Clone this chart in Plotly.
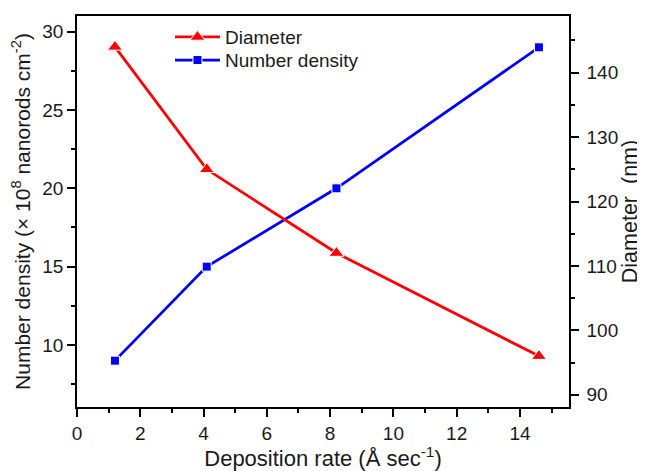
import plotly.graph_objects as go

deposition_rate = [1.2, 4.1, 8.2, 14.6]
diameter_nm = [144, 125, 112, 96]
number_density = [9, 15, 20, 29]

FONT = "Liberation Sans, Arial, sans-serif"
TXT = "#1a1a1a"

fig = go.Figure()
fig.add_trace(go.Scatter(
    x=deposition_rate, y=diameter_nm, name="Diameter", yaxis="y2",
    mode="lines+markers", legend="legend",
    line=dict(color="#ff0000", width=2.8),
    marker=dict(symbol="triangle-up", size=13, color="#ff0000",
                line=dict(color="white", width=1)),
))
fig.add_trace(go.Scatter(
    x=deposition_rate, y=number_density, name="Number density", yaxis="y",
    mode="lines+markers", legend="legend2",
    line=dict(color="#0000ff", width=2.8),
    marker=dict(symbol="square", size=9, color="#0000ff",
                line=dict(color="white", width=1)),
))

axis_common = dict(
    showline=True, linecolor="black", linewidth=1.5,
    ticks="outside", ticklen=8, tickwidth=1.5, tickcolor="black",
    showgrid=False, zeroline=False, automargin=False,
    tickfont=dict(family=FONT, size=19, color=TXT),
)
minor_common = dict(ticklen=4, tickwidth=1.5, tickcolor="black", ticks="outside")
legend_common = dict(xanchor="left", yanchor="middle", bgcolor="rgba(0,0,0,0)",
                     font=dict(family=FONT, size=19, color=TXT), itemwidth=45)

# page body has an 8px margin; figure is sized/margined to compensate
fig.update_layout(
    width=637, height=463,
    margin=dict(l=69, r=76, t=8, b=64),
    paper_bgcolor="white", plot_bgcolor="white",
    font=dict(family=FONT, color=TXT),
    showlegend=True,
    legend=dict(x=0.189, y=0.946, **legend_common),
    legend2=dict(x=0.189, y=0.887, **legend_common),
    xaxis=dict(
        range=[0, 15.55], dtick=2, tick0=0, mirror=True,
        minor=dict(dtick=1, tick0=0, **minor_common),
        title=dict(text="Deposition rate (Å sec<sup>-1</sup>)",
                   font=dict(family=FONT, size=22, color=TXT), standoff=4),
        **axis_common,
    ),
    yaxis=dict(
        range=[6.04, 31.0], dtick=5, tick0=0,
        minor=dict(dtick=2.5, tick0=0, **minor_common),
        title=dict(text="Number density (× 10<sup>8</sup> nanorods cm<sup>-2</sup>)",
                   font=dict(family=FONT, size=21, color=TXT), standoff=6),
        **axis_common,
    ),
    yaxis2=dict(
        range=[88.1, 148.8], dtick=10, tick0=0, overlaying="y", side="right",
        minor=dict(dtick=5, tick0=0, **minor_common),
        ticklabelstandoff=4,
        title=dict(text="Diameter  (nm)", font=dict(family=FONT, size=21.5, color=TXT), standoff=2),
        **axis_common,
    ),
)

fig.write_html("out.html")
